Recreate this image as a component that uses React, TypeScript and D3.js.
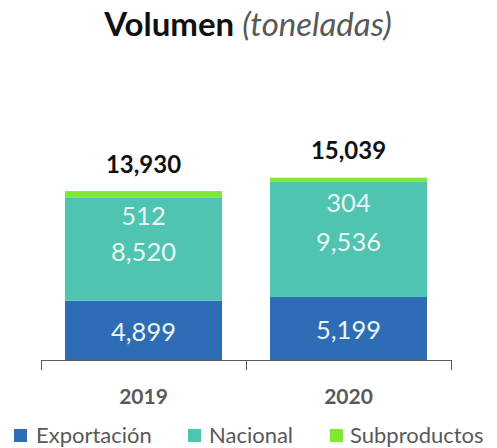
import React from "react";
import * as d3 from "d3";

const years = ["2019", "2020"];
const exportacion = [4899, 5199];
const nacional = [8520, 9536];
const subproductos = [512, 304];
const totals = [13930, 15039];
const seriesNames = ["Exportación", "Nacional", "Subproductos"];
const colors = ["#2E6DB5", "#4EC4B1", "#7FE834"];

const W = 497;
const H = 448;
const FONT = "Lato, 'Noto Sans', sans-serif";

export default function App() {
  const x = d3.scaleBand<string>().domain(years).range([41, 451]).padding(0);
  const barW = x.bandwidth() * 0.766;
  const y = d3.scaleLinear().domain([0, 16000]).range([360, 166]);

  const rows = years.map((yr, i) => ({
    year: yr,
    Exportación: exportacion[i],
    Nacional: nacional[i],
    Subproductos: subproductos[i],
  }));
  const stack = d3.stack<any>().keys(seriesNames);
  const layers = stack(rows);
  const fmt = d3.format(",");

  const legendItems = [
    { name: seriesNames[0], sx: 14, tx: 36 },
    { name: seriesNames[1], sx: 188, tx: 209 },
    { name: seriesNames[2], sx: 330, tx: 350 },
  ];

  return (
    <svg
      width={W}
      height={H}
      style={{ position: "absolute", left: 0, top: 0, background: "#fff" }}
      fontFamily={FONT}
    >
      <text x={248} y={36} textAnchor="middle" fontSize={33}>
        <tspan fontWeight="bold" fill="#111">Volumen </tspan>
        <tspan fontStyle="italic" fill="#595959">(toneladas)</tspan>
      </text>

      {layers.map((layer, li) =>
        layer.map((d, i) => {
          const cx = (x(years[i]) as number) + x.bandwidth() / 2;
          const y0 = y(d[0]);
          const y1 = y(d[1]);
          return (
            <rect
              key={`${li}-${i}`}
              x={cx - barW / 2}
              y={y1}
              width={barW}
              height={y0 - y1}
              fill={colors[li]}
            />
          );
        })
      )}

      {layers.map((layer, li) =>
        layer.map((d, i) => {
          const cx = (x(years[i]) as number) + x.bandwidth() / 2;
          const y0 = y(d[0]);
          const y1 = y(d[1]);
          const ly = li === 2 ? y1 + 24 : (y0 + y1) / 2 + (li === 1 ? 2 : 1);
          return (
            <text
              key={`l-${li}-${i}`}
              x={cx}
              y={ly}
              textAnchor="middle"
              dominantBaseline="central"
              fontSize={25.5}
              fill="#EAF5F2"
            >
              {fmt(d[1] - d[0])}
            </text>
          );
        })
      )}

      {years.map((yr, i) => {
        const cx = (x(yr) as number) + x.bandwidth() / 2;
        return (
          <text
            key={`t-${yr}`}
            x={cx}
            y={y(totals[i]) - 28}
            textAnchor="middle"
            dominantBaseline="central"
            fontSize={24}
            fontWeight="bold"
            fill="#111"
          >
            {fmt(totals[i])}
          </text>
        );
      })}

      <line x1={41} x2={451} y1={360.5} y2={360.5} stroke="#595959" strokeWidth={1} />
      {[...years.map((yr) => x(yr) as number), 451].map((tx, i) => (
        <line key={`tk-${i}`} x1={tx + 0.5} x2={tx + 0.5} y1={360} y2={370} stroke="#595959" />
      ))}

      {years.map((yr) => (
        <text
          key={`c-${yr}`}
          x={(x(yr) as number) + x.bandwidth() / 2}
          y={395}
          textAnchor="middle"
          dominantBaseline="central"
          fontSize={21}
          fontWeight="bold"
          fill="#595959"
        >
          {yr}
        </text>
      ))}

      {legendItems.map((it, i) => (
        <g key={`lg-${i}`}>
          <rect x={it.sx} y={429} width={13} height={13} fill={colors[i]} />
          <text x={it.tx} y={443} fontSize={22} fill="#595959">
            {it.name}
          </text>
        </g>
      ))}
    </svg>
  );
}
